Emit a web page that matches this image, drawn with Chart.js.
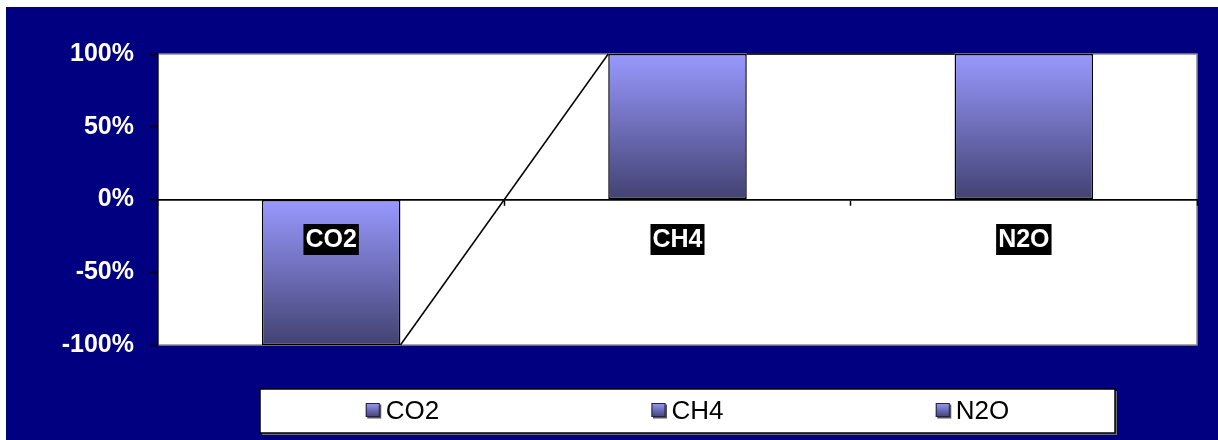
<!DOCTYPE html>
<html>
<head>
<meta charset="utf-8">
<script src="https://cdn.jsdelivr.net/npm/chart.js@4.4.1/dist/chart.umd.min.js"></script>
<style>
  html, body { margin: 0; padding: 0; background: #ffffff; }
  body { width: 1218px; height: 440px; position: relative; overflow: hidden; }
  #wrap { position: absolute; left: 6px; top: 7px; width: 1212px; height: 433px; }
  canvas { display: block; }
</style>
</head>
<body>
<div id="wrap"><canvas id="chart" width="1212" height="433"></canvas></div>
<script>
// Gases and their share change (%)
const gases = ['CO2', 'CH4', 'N2O'];
const shareChange = [-100, 100, 100];
const percentTicks = [-100, -50, 0, 50, 100];

const NAVY = '#000080';
const FONT = "'Liberation Sans', Arial, Helvetica, sans-serif";
const BAR_TOP = '#9999ff';
const BAR_BOTTOM = '#424272';

function barGradient(ctx, top, bottom) {
  const g = ctx.createLinearGradient(0, top, 0, bottom);
  g.addColorStop(0, BAR_TOP);
  g.addColorStop(1, BAR_BOTTOM);
  return g;
}

// Background: navy frame with white plot area and grey plot border
const framePlugin = {
  id: 'frame',
  beforeDraw(chart) {
    const { ctx, chartArea: a } = chart;
    ctx.save();
    ctx.fillStyle = NAVY;
    ctx.fillRect(0, 0, chart.width, chart.height);
    ctx.fillStyle = '#ffffff';
    ctx.fillRect(a.left, a.top, a.right - a.left, a.bottom - a.top);
    ctx.strokeStyle = '#8c8c8c';
    ctx.lineWidth = 1.5;
    ctx.strokeRect(a.left, a.top, a.right - a.left, a.bottom - a.top);
    ctx.restore();
  }
};

// Series lines linking the end of each column to the next one
const seriesLinesPlugin = {
  id: 'seriesLines',
  afterDatasetsDraw(chart) {
    const { ctx } = chart;
    const meta = chart.getDatasetMeta(0);
    const ys = chart.scales.y;
    ctx.save();
    ctx.strokeStyle = '#000000';
    ctx.lineWidth = 1.5;
    for (let i = 0; i < meta.data.length - 1; i++) {
      const a = meta.data[i], b = meta.data[i + 1];
      const y1 = ys.getPixelForValue(shareChange[i]);
      const y2 = ys.getPixelForValue(shareChange[i + 1]);
      ctx.beginPath();
      ctx.moveTo(a.x + a.width / 2, y1);
      ctx.lineTo(b.x - b.width / 2, y2);
      ctx.stroke();
    }
    ctx.restore();
  }
};

// Gas name labels: white bold text on black boxes just below the zero line
const nameLabelPlugin = {
  id: 'nameLabels',
  afterDatasetsDraw(chart) {
    const { ctx } = chart;
    const meta = chart.getDatasetMeta(0);
    const zeroY = chart.scales.y.getPixelForValue(0);
    ctx.save();
    ctx.font = 'bold 25px ' + FONT;
    ctx.textAlign = 'center';
    ctx.textBaseline = 'middle';
    meta.data.forEach((bar, i) => {
      const text = gases[i];
      const w = ctx.measureText(text).width + 4;
      const h = 31;
      const cy = zeroY + 40;
      ctx.fillStyle = '#000000';
      ctx.fillRect(bar.x - w / 2, cy - h / 2, w, h);
      ctx.fillStyle = '#ffffff';
      ctx.fillText(text, bar.x, cy + 1);
    });
    ctx.restore();
  }
};

// Legend box below the plot, one equal column per gas
const legendPlugin = {
  id: 'gasLegend',
  afterDraw(chart) {
    const { ctx } = chart;
    const left = 254, top = 382, width = 855, height = 44;
    ctx.save();
    ctx.fillStyle = '#6e6e6e';
    ctx.fillRect(left + 2, top + 2, width, height);
    ctx.fillStyle = '#ffffff';
    ctx.fillRect(left, top, width, height);
    ctx.strokeStyle = '#000000';
    ctx.lineWidth = 1.5;
    ctx.strokeRect(left, top, width, height);

    ctx.font = '26px ' + FONT;
    ctx.textBaseline = 'middle';
    ctx.textAlign = 'left';
    const colW = width / gases.length;
    const cy = top + height / 2;
    const box = 14, gap = 6;
    gases.forEach((g, i) => {
      const tw = ctx.measureText(g).width;
      const itemW = box + gap + tw;
      const x0 = left + i * colW + (colW - itemW) / 2;
      const by = cy - box / 2 - 1;
      ctx.fillStyle = '#555555';
      ctx.fillRect(x0 + 1.5, by + 1.5, box, box);
      ctx.fillStyle = barGradient(ctx, by, by + box);
      ctx.fillRect(x0, by, box, box);
      ctx.strokeStyle = '#222244';
      ctx.lineWidth = 1;
      ctx.strokeRect(x0 + 0.5, by + 0.5, box - 1, box - 1);
      ctx.fillStyle = '#000000';
      ctx.fillText(g, x0 + box + gap, cy + 1);
    });
    ctx.restore();
  }
};

new Chart(document.getElementById('chart'), {
  type: 'bar',
  data: {
    labels: gases,
    datasets: [{
      label: 'Share change',
      data: shareChange,
      backgroundColor(c) {
        const chart = c.chart;
        if (!chart.chartArea || c.type !== 'data') return BAR_TOP;
        const ys = chart.scales.y;
        const p = ys.getPixelForValue(c.raw);
        const z = ys.getPixelForValue(0);
        return barGradient(chart.ctx, Math.min(p, z), Math.max(p, z));
      },
      borderColor: '#000000',
      borderWidth: 1.5,
      borderSkipped: false,
      categoryPercentage: 0.4,
      barPercentage: 1.0
    }]
  },
  options: {
    responsive: false,
    animation: false,
    events: [],
    layout: { padding: { left: 0, right: 21, top: 47, bottom: 95 } },
    plugins: {
      legend: { display: false },
      tooltip: { enabled: false },
      title: { display: false }
    },
    scales: {
      x: {
        position: { y: 0 },
        ticks: { display: false },
        grid: {
          display: true,
          drawOnChartArea: false,
          drawTicks: true,
          tickLength: 5,
          tickColor: '#000000',
          tickWidth: 1.5
        },
        border: { display: true, color: '#000000', width: 1.8 }
      },
      y: {
        min: -100,
        max: 100,
        afterBuildTicks(scale) {
          scale.ticks = percentTicks.map(v => ({ value: v }));
        },
        afterFit(scale) { scale.width = 152; },
        ticks: {
          color: '#ffffff',
          font: { family: FONT, size: 25, weight: 'bold' },
          padding: 16,
          callback: v => v + '%'
        },
        grid: {
          display: true,
          drawOnChartArea: false,
          drawTicks: true,
          tickLength: 8,
          tickColor: '#000000',
          tickWidth: 1.5
        },
        border: { display: true, color: '#000000', width: 1.5 }
      }
    }
  },
  plugins: [framePlugin, seriesLinesPlugin, nameLabelPlugin, legendPlugin]
});
</script>
</body>
</html>
